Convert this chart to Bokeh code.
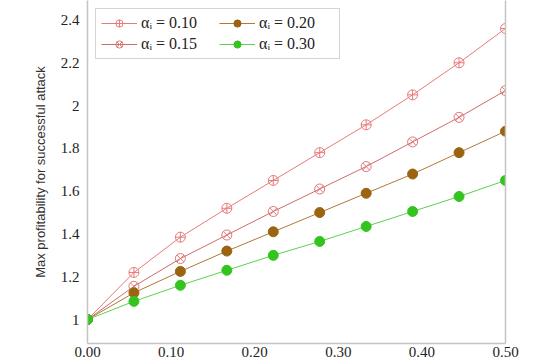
from bokeh.plotting import figure
from bokeh.models import FixedTicker, LinearAxis, Legend, LegendItem, Range1d
from bokeh.embed import file_html
from bokeh.resources import INLINE

x_vals = [0, 1/18, 2/18, 3/18, 4/18, 5/18, 6/18, 7/18, 8/18, 9/18]
a010 = [1.0, 1.22, 1.385, 1.52, 1.65, 1.78, 1.91, 2.05, 2.20, 2.36]
a015 = [1.0, 1.155, 1.285, 1.395, 1.505, 1.61, 1.715, 1.83, 1.945, 2.07]
a020 = [1.0, 1.125, 1.225, 1.32, 1.41, 1.50, 1.59, 1.68, 1.78, 1.88]
a030 = [1.0, 1.085, 1.16, 1.23, 1.30, 1.365, 1.435, 1.505, 1.575, 1.65]
labels = ["αᵢ = 0.10", "αᵢ = 0.15", "αᵢ = 0.20", "αᵢ = 0.30"]
x_ticks = [0.0, 0.1, 0.2, 0.3, 0.4, 0.5]
x_tick_labels = ["0.00", "0.10", "0.20", "0.30", "0.40", "0.50"]
y_ticks = [1.0, 1.2, 1.4, 1.6, 1.8, 2.0, 2.2, 2.4]
y_tick_labels = ["1", "1.2", "1.4", "1.6", "1.8", "2", "2.2", "2.4"]

SERIF = "Liberation Serif"

p = figure(width=554, height=364, output_backend="svg", toolbar_location=None,
           x_range=Range1d(0, 0.5), y_range=Range1d(0.888, 2.491),
           min_border_left=87, min_border_right=49, min_border_top=0, min_border_bottom=21)
p.outline_line_color = None
p.xgrid.visible = False
p.ygrid.visible = False
p.background_fill_color = "white"

axis_col = "#c4c4c4"
for ax in (p.xaxis[0], p.yaxis[0]):
    ax.axis_line_color = axis_col
    ax.axis_line_width = 1.5
    ax.major_tick_line_color = None
    ax.minor_tick_line_color = None
    ax.major_tick_out = 0
    ax.minor_tick_out = 0
    ax.major_label_text_font = SERIF
    ax.major_label_text_font_style = "normal"
    ax.major_label_text_font_size = "15px"
    ax.major_label_text_color = "#222222"

p.xaxis.ticker = FixedTicker(ticks=x_ticks)
p.xaxis.major_label_overrides = {t: l for t, l in zip(x_ticks, x_tick_labels)}
p.xaxis.major_label_standoff = 3
p.yaxis.ticker = FixedTicker(ticks=y_ticks)
p.yaxis.major_label_overrides = {t: l for t, l in zip(y_ticks, y_tick_labels)}
p.yaxis.major_label_standoff = 8
p.yaxis.axis_label = "Max profitability for successful attack"
p.yaxis.axis_label_text_font = "Liberation Sans"
p.yaxis.axis_label_text_font_style = "normal"
p.yaxis.axis_label_text_font_size = "13px"
p.yaxis.axis_label_text_color = "#333333"
p.yaxis.axis_label_standoff = 10

right = LinearAxis(ticker=FixedTicker(ticks=[]), axis_line_color=axis_col, axis_line_width=1.5,
                   major_tick_line_color=None, minor_tick_line_color=None,
                   major_tick_out=0, minor_tick_out=0)
p.add_layout(right, "right")

items = []
specs = [
    (a010, "#e87a7a", "#e87a7a", "circle_cross", None),
    (a015, "#cf6b6b", "#e07777", "circle_x", None),
    (a020, "#b07a35", "#9a6410", "circle", "#9a6410"),
    (a030, "#5fcf50", "#33c41f", "circle", "#33c41f"),
]
for vals, lc, mc, marker, fill in specs:
    r1 = p.line(x_vals, vals, line_color=lc, line_width=1)
    r2 = p.scatter(x_vals, vals, marker=marker, size=10, line_color=mc,
                   fill_color=fill if fill else "white", fill_alpha=1.0 if fill else 0.0, line_width=1)
    items.append((r1, r2))

legend = Legend(items=[LegendItem(label=l, renderers=list(r)) for l, r in zip(labels, items)],
                ncols=2, location="top_left")
legend.label_text_font = SERIF
legend.label_text_font_size = "16px"
legend.label_text_color = "#222222"
legend.glyph_width = 36
legend.glyph_height = 18
legend.label_height = 18
legend.label_standoff = 4
legend.label_width = 75
legend.spacing = 3
legend.padding = 5
legend.margin = 8
legend.border_line_color = "#aaaaaa"
legend.border_line_width = 1
legend.background_fill_color = "white"
legend.background_fill_alpha = 1.0
p.add_layout(legend)

open("out.html", "w").write(file_html(p, INLINE))
